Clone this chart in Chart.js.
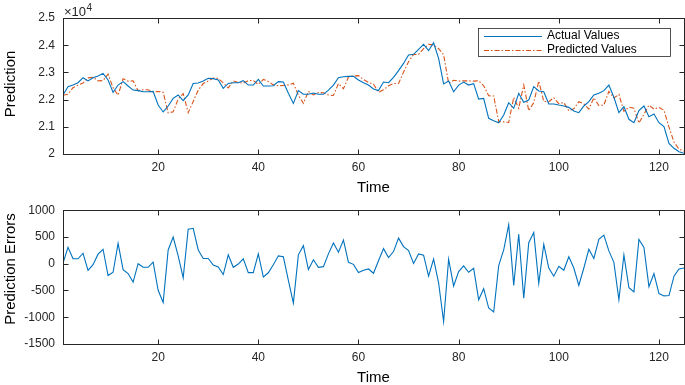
<!DOCTYPE html>
<html><head><meta charset="utf-8">
<script src="https://cdn.jsdelivr.net/npm/chart.js@4.4.0/dist/chart.umd.min.js"></script>
<style>
html,body{margin:0;padding:0;background:#fff;}
#wrap{position:relative;width:685px;height:385px;background:#fff;}
canvas{position:absolute;left:0;}
#c1{top:0;} #c2{top:195px;}
</style></head><body>
<div id="wrap"><canvas id="c1" width="685" height="195"></canvas><canvas id="c2" width="685" height="190"></canvas></div>
<script>
// ---------- data ----------
const time = Array.from({length:125}, (_, i) => i + 1);

const actualValues = [
22170,22475,22535,22620,22805,22685,22805,22865,22965,22720,
22265,22535,22660,22500,22350,22330,22290,22290,22300,21800,
21545,21765,22045,22170,21960,22170,22595,22610,22685,22780,
22770,22720,22415,22595,22620,22620,22695,22535,22535,22745,
22500,22500,22510,22660,22645,22230,21860,22330,22195,22195,
22240,22195,22195,22350,22535,22805,22840,22855,22855,22720,
22620,22535,22390,22330,22645,22620,22820,23065,23330,23640,
23665,23845,24030,23800,24090,23515,22575,22685,22290,22535,
22645,22535,22585,22020,22045,21310,21225,21150,21435,21885,
21680,22230,21900,21985,22475,22315,22290,21840,21840,21800,
21765,21715,21580,21520,21765,21925,22170,22230,22330,22535,
22085,21520,21740,21275,21150,21595,21765,21370,21470,21150,
21005,20390,20210,20085,20025
];

const predictedValues = [
22160,22200,22440,22530,22610,22800,22820,22690,22700,22940,
22430,22160,22770,22680,22690,22330,22360,22360,22280,22300,
22270,21510,21550,22020,22220,21520,21930,22350,22590,22680,
22790,22780,22610,22430,22690,22630,22600,22700,22700,22560,
22740,22670,22540,22510,22520,22540,22600,22160,21860,22300,
22170,22260,22250,22170,22150,22590,22400,22830,22870,22880,
22740,22630,22570,22270,22360,22510,22590,22590,23010,23390,
23660,23660,23870,24030,24010,23870,23650,22600,22710,22680,
22690,22690,22680,22690,22510,22140,22130,21190,21180,21160,
22080,21680,22540,21590,21890,22680,21930,21920,22070,21850,
21890,21590,21660,21920,21840,21650,22070,21780,21800,22300,
22060,22190,21570,21720,21680,21140,21460,21800,21650,21710,
21610,20990,20440,20180,20100
];

const predictionErrors = [
10,306,92,92,196,-123,-18,178,270,-221,
-160,380,-110,-184,-343,0,-67,-67,30,-497,
-723,257,497,147,-264,644,662,257,98,98,
-25,-61,-202,166,-67,-6,92,-166,-166,184,
-248,-169,-18,147,129,-313,-736,166,337,-110,
74,-67,-55,184,386,215,441,25,-12,-166,
-123,-98,-178,55,282,116,227,478,319,245,
6,184,159,-233,86,-356,-1079,86,-417,-147,
-40,-159,-86,-674,-466,-828,-901,-37,257,729,
-405,552,-644,392,582,-368,362,-80,-233,-49,
-123,129,-80,-405,-80,270,98,454,533,239,
25,-674,166,-448,-527,454,306,-429,-184,-558,
-601,-595,-233,-98,-80
];

const xTickValues = [20, 40, 60, 80, 100, 120];
const xTickLabels = ['20', '40', '60', '80', '100', '120'];
const topTickValues = [20000, 21000, 22000, 23000, 24000, 25000];
const topTickLabels = ['2', '2.1', '2.2', '2.3', '2.4', '2.5'];
const errTickValues = [-1500, -1000, -500, 0, 500, 1000];
const errTickLabels = ['-1500', '-1000', '-500', '0', '500', '1000'];
const seriesNames = ['Actual Values', 'Predicted Values', 'Prediction Errors'];

// ---------- style ----------
const FONT = "'Liberation Sans', Arial, Helvetica, sans-serif";
const AXC = '#262626';
const BLUE = '#0072BD';
const ORANGE = '#D95319';
Chart.defaults.font.family = FONT;
Chart.defaults.color = AXC;

function xScale() {
  return {
    type: 'linear', min: 1, max: 125,
    afterBuildTicks: a => { a.ticks = xTickValues.map(v => ({value: v})); },
    grid: {display: false, drawTicks: false},
    border: {display: false},
    ticks: {padding: 6, font: {size: 12}, maxRotation: 0, autoSkip: false,
            callback: (v, i) => xTickLabels[i]},
    afterFit: s => { s.height = 41; }
  };
}
function yScale(min, max, vals, labels) {
  return {
    type: 'linear', min: min, max: max,
    afterBuildTicks: a => { a.ticks = vals.map(v => ({value: v})); },
    grid: {display: false, drawTicks: false},
    border: {display: false},
    ticks: {padding: 8, font: {size: 12}, autoSkip: false,
            callback: (v, i) => labels[i]},
    afterFit: s => { s.width = 63; }
  };
}

function decorPlugin(cfg) {
  return {
    id: 'decor',
    afterDraw(chart) {
      const ctx = chart.ctx;
      const a = chart.chartArea;
      const xs = chart.scales.x, ys = chart.scales.y;
      ctx.save();
      ctx.strokeStyle = AXC;
      ctx.lineWidth = 1;
      const L = Math.round(a.left) + 0.5, R = Math.round(a.right) + 0.5;
      const T = Math.round(a.top) + 0.5, B = Math.round(a.bottom) + 0.5;
      ctx.strokeRect(L, T, R - L, B - T);
      ctx.beginPath();
      xTickValues.forEach(v => {
        const px = Math.round(xs.getPixelForValue(v)) + 0.5;
        ctx.moveTo(px, B); ctx.lineTo(px, B - 5);
        ctx.moveTo(px, T); ctx.lineTo(px, T + 5);
      });
      cfg.yTicks.forEach(v => {
        const py = Math.round(ys.getPixelForValue(v)) + 0.5;
        ctx.moveTo(L, py); ctx.lineTo(L + 5, py);
        ctx.moveTo(R, py); ctx.lineTo(R - 5, py);
      });
      ctx.stroke();

      // axis titles
      ctx.fillStyle = '#000';
      ctx.font = '15px ' + FONT;
      ctx.textAlign = 'center';
      ctx.textBaseline = 'alphabetic';
      ctx.fillText('Time', (a.left + a.right) / 2, cfg.timeBaseline);
      ctx.save();
      ctx.translate(15, cfg.yTitleCenter);
      ctx.rotate(-Math.PI / 2);
      ctx.fillText(cfg.yTitle, 0, 0);
      ctx.restore();

      if (cfg.exponent) {
        ctx.fillStyle = AXC;
        ctx.textAlign = 'left';
        ctx.textBaseline = 'alphabetic';
        ctx.font = '13px ' + FONT;
        ctx.fillText('\u00d710', 64, 16);
        const w = ctx.measureText('\u00d710').width;
        ctx.font = '10px ' + FONT;
        ctx.fillText('4', 64 + w + 0.5, 11);
      }

      if (cfg.legend) {
        const bx = 478.5, by = 28.5, bw = 192, bh = 28;
        ctx.fillStyle = '#fff';
        ctx.fillRect(bx, by, bw, bh);
        ctx.strokeStyle = '#262626';
        ctx.lineWidth = 0.8;
        ctx.strokeRect(bx, by, bw, bh);
        const ds = chart.data.datasets;
        const rows = [by + 7, by + 21];
        ds.forEach((d, i) => {
          ctx.beginPath();
          ctx.strokeStyle = d.borderColor;
          ctx.lineWidth = 1;
          ctx.setLineDash(d.borderDash || []);
          ctx.moveTo(484, Math.round(rows[i]) + 0.5);
          ctx.lineTo(542, Math.round(rows[i]) + 0.5);
          ctx.stroke();
          ctx.setLineDash([]);
          ctx.fillStyle = '#000';
          ctx.font = '12px ' + FONT;
          ctx.textAlign = 'left';
          ctx.textBaseline = 'middle';
          ctx.fillText(d.label, 547, rows[i] + 0.5);
        });
      }
      ctx.restore();
    }
  };
}

const common = {
  responsive: false, animation: false, devicePixelRatio: 1,
  plugins: {legend: {display: false}, tooltip: {enabled: false}},
  elements: {point: {radius: 0}, line: {tension: 0}}
};

new Chart(document.getElementById('c1'), {
  type: 'line',
  data: {
    labels: time,
    datasets: [
      {label: seriesNames[0], data: actualValues, borderColor: BLUE, borderWidth: 1.1, pointRadius: 0, fill: false},
      {label: seriesNames[1], data: predictedValues, borderColor: ORANGE, borderWidth: 1.1, borderDash: [5, 2, 1.5, 2], pointRadius: 0, fill: false}
    ]
  },
  options: Object.assign({}, common, {
    layout: {padding: {top: 18, right: 1, left: 0, bottom: 0}},
    scales: {x: xScale(), y: yScale(20000, 25000, topTickValues, topTickLabels)}
  }),
  plugins: [decorPlugin({yTicks: topTickValues, yTitle: 'Prediction', yTitleCenter: 84, timeBaseline: 192, exponent: true, legend: true})]
});

new Chart(document.getElementById('c2'), {
  type: 'line',
  data: {
    labels: time,
    datasets: [
      {label: seriesNames[2], data: predictionErrors, borderColor: BLUE, borderWidth: 1.1, pointRadius: 0, fill: false}
    ]
  },
  options: Object.assign({}, common, {
    layout: {padding: {top: 13, right: 1, left: 0, bottom: 0}},
    scales: {x: xScale(), y: yScale(-1500, 1000, errTickValues, errTickLabels)}
  }),
  plugins: [decorPlugin({yTicks: errTickValues, yTitle: 'Prediction Errors', yTitleCenter: 74, timeBaseline: 187, exponent: false, legend: false})]
});
</script>
</body></html>
